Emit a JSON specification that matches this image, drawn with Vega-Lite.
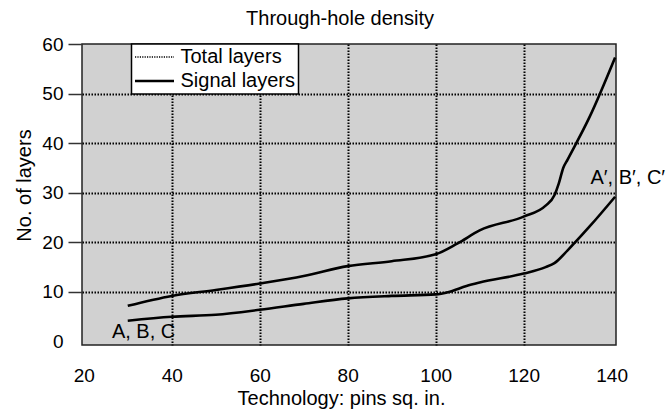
{
  "$schema": "https://vega.github.io/schema/vega-lite/v6.json",
  "width": 534,
  "height": 301,
  "autosize": {"type": "none"},
  "padding": {"left": 82, "top": 44, "right": 55, "bottom": 70},
  "background": "white",
  "title": {
    "text": "Through-hole density",
    "font": "Liberation Sans",
    "fontSize": 20,
    "fontWeight": "normal",
    "color": "black",
    "anchor": "middle",
    "dx": -9,
    "dy": 27,
    "baseline": "alphabetic",
    "offset": 17.5
  },
  "config": {
    "font": "Liberation Sans",
    "view": {"fill": "#d1d1d1", "stroke": "#222222", "strokeWidth": 1.5},
    "axis": {
      "labelFont": "Liberation Sans",
      "titleFont": "Liberation Sans",
      "labelColor": "black",
      "titleColor": "black",
      "titleFontWeight": "normal",
      "labelFontSize": 19,
      "titleFontSize": 20,
      "domain": false,
      "grid": true,
      "gridColor": "black",
      "gridDash": [1.5, 1.5],
      "gridWidth": 2
    }
  },
  "datasets": {
    "curves": [
      {"pins": 30, "layers": 7.2, "series": "Total layers"},
      {"pins": 40, "layers": 9.2, "series": "Total layers"},
      {"pins": 50, "layers": 10.4, "series": "Total layers"},
      {"pins": 60, "layers": 11.7, "series": "Total layers"},
      {"pins": 70, "layers": 13.2, "series": "Total layers"},
      {"pins": 80, "layers": 15.2, "series": "Total layers"},
      {"pins": 90, "layers": 16.2, "series": "Total layers"},
      {"pins": 100, "layers": 17.6, "series": "Total layers"},
      {"pins": 105, "layers": 19.8, "series": "Total layers"},
      {"pins": 110, "layers": 22.4, "series": "Total layers"},
      {"pins": 120, "layers": 25.2, "series": "Total layers"},
      {"pins": 125, "layers": 27.4, "series": "Total layers"},
      {"pins": 127, "layers": 29.5, "series": "Total layers"},
      {"pins": 128, "layers": 31.9, "series": "Total layers"},
      {"pins": 129, "layers": 35.0, "series": "Total layers"},
      {"pins": 130, "layers": 36.7, "series": "Total layers"},
      {"pins": 135, "layers": 45.3, "series": "Total layers"},
      {"pins": 140.8, "layers": 57.3, "series": "Total layers"},
      {"pins": 30, "layers": 4.2, "series": "Signal layers"},
      {"pins": 40, "layers": 5.0, "series": "Signal layers"},
      {"pins": 50, "layers": 5.4, "series": "Signal layers"},
      {"pins": 60, "layers": 6.4, "series": "Signal layers"},
      {"pins": 70, "layers": 7.6, "series": "Signal layers"},
      {"pins": 80, "layers": 8.7, "series": "Signal layers"},
      {"pins": 90, "layers": 9.2, "series": "Signal layers"},
      {"pins": 100, "layers": 9.5, "series": "Signal layers"},
      {"pins": 103, "layers": 10.0, "series": "Signal layers"},
      {"pins": 107, "layers": 11.2, "series": "Signal layers"},
      {"pins": 110, "layers": 11.9, "series": "Signal layers"},
      {"pins": 120, "layers": 13.7, "series": "Signal layers"},
      {"pins": 125, "layers": 15.0, "series": "Signal layers"},
      {"pins": 127, "layers": 15.8, "series": "Signal layers"},
      {"pins": 130, "layers": 18.4, "series": "Signal layers"},
      {"pins": 135, "layers": 23.2, "series": "Signal layers"},
      {"pins": 140.8, "layers": 29.2, "series": "Signal layers"}
    ],
    "notes": [
      {"pins": 26.4, "layers": 0.65, "label": "A, B, C"},
      {"pins": 135.2, "layers": 31.8, "label": "A′, B′, C′"}
    ]
  },
  "layer": [
    {
      "data": {"name": "curves"},
      "mark": {"type": "line", "interpolate": "monotone", "strokeWidth": 2.6},
      "encoding": {
        "x": {
          "field": "pins",
          "type": "quantitative",
          "scale": {"domain": [19.6, 141], "nice": false, "zero": false},
          "axis": {
            "values": [20, 40, 60, 80, 100, 120, 140],
            "ticks": false,
            "tickSize": 0,
            "labelPadding": 21,
            "title": "Technology: pins sq. in.",
            "titleX": 259,
            "titleY": 59,
            "titleAlign": "center",
            "titleBaseline": "alphabetic",
            "gridOpacity": {"condition": {"test": "datum.value <= 20 || datum.value >= 140", "value": 0}, "value": 1}
          }
        },
        "y": {
          "field": "layers",
          "type": "quantitative",
          "scale": {"domain": [-0.7, 60], "nice": false, "zero": false},
          "axis": {
            "values": [0, 10, 20, 30, 40, 50, 60],
            "tickSize": 14,
            "tickColor": "#333333",
            "tickWidth": 1.5,
            "labelPadding": 5,
            "tickOpacity": {"condition": {"test": "datum.value == 0", "value": 0}, "value": 1},
            "gridOpacity": {"condition": {"test": "datum.value == 0 || datum.value == 60", "value": 0}, "value": 1},
            "title": "No. of layers",
            "titleAngle": -90,
            "titleX": -52,
            "titleY": 141,
            "titleAlign": "center",
            "titleBaseline": "alphabetic"
          }
        },
        "color": {
          "field": "series",
          "type": "nominal",
          "scale": {"domain": ["Total layers", "Signal layers"], "range": ["black", "black"]},
          "legend": {
            "orient": "none",
            "legendX": 49.5,
            "legendY": 0,
            "title": null,
            "fillColor": "white",
            "strokeColor": "black",
            "padding": 3,
            "rowPadding": 4,
            "labelFont": "Liberation Sans",
            "labelFontSize": 20,
            "labelColor": "black",
            "labelExpr": "datum.label + '\u00a0\u00a0\u00a0'",
            "labelOffset": 16,
            "symbolOffset": 10,
            "symbolType": "stroke",
            "symbolSize": 1521,
            "symbolStrokeWidth": 2.6,
            "encode": {
              "legend": {"update": {"strokeWidth": {"value": 1.5}}},
              "symbols": {
                "update": {
                  "strokeDash": {"signal": "datum.value === 'Total layers' ? [1.2, 1.2] : [1, 0]"},
                  "strokeWidth": {"signal": "datum.value === 'Total layers' ? 1.5 : 2.6"}
                }
              }
            }
          }
        }
      }
    },
    {
      "data": {"name": "notes"},
      "mark": {"type": "text", "align": "left", "baseline": "alphabetic", "font": "Liberation Sans", "fontSize": 20, "color": "black"},
      "encoding": {
        "x": {"field": "pins", "type": "quantitative"},
        "y": {"field": "layers", "type": "quantitative"},
        "text": {"field": "label"}
      }
    }
  ]
}
